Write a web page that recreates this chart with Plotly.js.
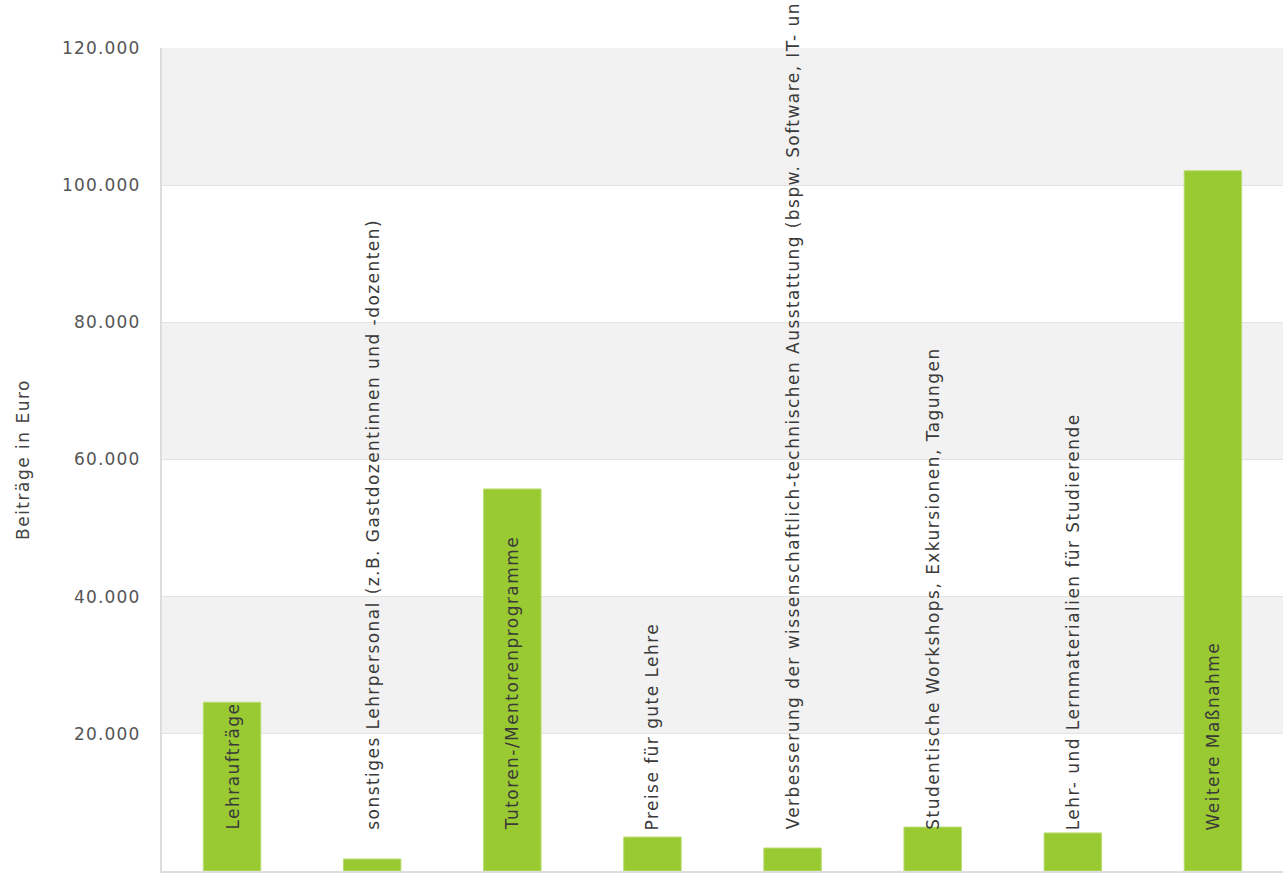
<!DOCTYPE html>
<html>
<head>
<meta charset="utf-8">
<script src="https://cdn.plot.ly/plotly-3.0.1.min.js"></script>
<style>html,body{margin:0;padding:0;background:#fff;}#chart{width:1283px;height:876px;}</style>
</head>
<body>
<div id="chart"></div>
<script>
const categories = [
  "Lehraufträge",
  "sonstiges Lehrpersonal (z.B. Gastdozentinnen und -dozenten)",
  "Tutoren-/Mentorenprogramme",
  "Preise für gute Lehre",
  "Verbesserung der wissenschaftlich-technischen Ausstattung (bspw. Software, IT- un",
  "Studentische Workshops, Exkursionen, Tagungen",
  "Lehr- und Lernmaterialien für Studierende",
  "Weitere Maßnahme"
];
const values = [24600, 1750, 55700, 4950, 3350, 6400, 5550, 102100];
const tickVals = [0, 20000, 40000, 60000, 80000, 100000, 120000];
const tickText = ["0", "20.000", "40.000", "60.000", "80.000", "100.000", "120.000"];
const yTitle = "Beiträge in Euro";

function spaced(t, s) { return '<span style="letter-spacing:' + s + 'px">' + t + '</span>'; }

const shapes = [];
for (let i = 0; i < tickVals.length - 1; i++) {
  if (i % 2 === 1) {
    shapes.push({type: 'rect', xref: 'paper', yref: 'y', x0: 0, x1: 1,
      y0: tickVals[i], y1: tickVals[i + 1], fillcolor: '#f2f2f2', line: {width: 0}, layer: 'below'});
  }
}

const annotations = categories.map((c, i) => ({
  x: i, y: 0, xref: 'x', yref: 'y', text: spaced(c, 1.45), textangle: -90,
  showarrow: false, xanchor: 'center', yanchor: 'bottom', yshift: 39,
  font: {family: 'DejaVu Sans', size: 17, color: '#3a3a3a'}
}));

const trace = {
  type: 'bar', x: categories.map((c, i) => i), y: values,
  marker: {color: '#9aca32', line: {color: '#b8dc70', width: 1}},
  width: 0.41, hoverinfo: 'none'
};

const layout = {
  width: 1283, height: 876,
  margin: {l: 162, r: 0, t: 48, b: 5},
  paper_bgcolor: '#ffffff', plot_bgcolor: '#ffffff',
  showlegend: false,
  separators: ',.',
  shapes: shapes,
  annotations: annotations,
  xaxis: {range: [-0.5, 7.5], showticklabels: false, showgrid: false, zeroline: false,
    showline: true, linecolor: '#dddddd', linewidth: 2, ticks: ''},
  yaxis: {range: [0, 120000], tickvals: tickVals, ticktext: tickText.map(t => spaced(t, 1.2)),
    showgrid: true, gridcolor: '#e2e2e2', gridwidth: 1, zeroline: false,
    showline: true, linecolor: '#dddddd', linewidth: 2, ticks: '',
    ticklabelstandoff: 16,
    tickfont: {family: 'DejaVu Sans', size: 17, color: '#555555'},
    title: {text: spaced(yTitle, 1.5), font: {family: 'DejaVu Sans', size: 17, color: '#444444'}, standoff: 28}
  }
};

Plotly.newPlot('chart', [trace], layout, {staticPlot: true});
</script>
</body>
</html>
